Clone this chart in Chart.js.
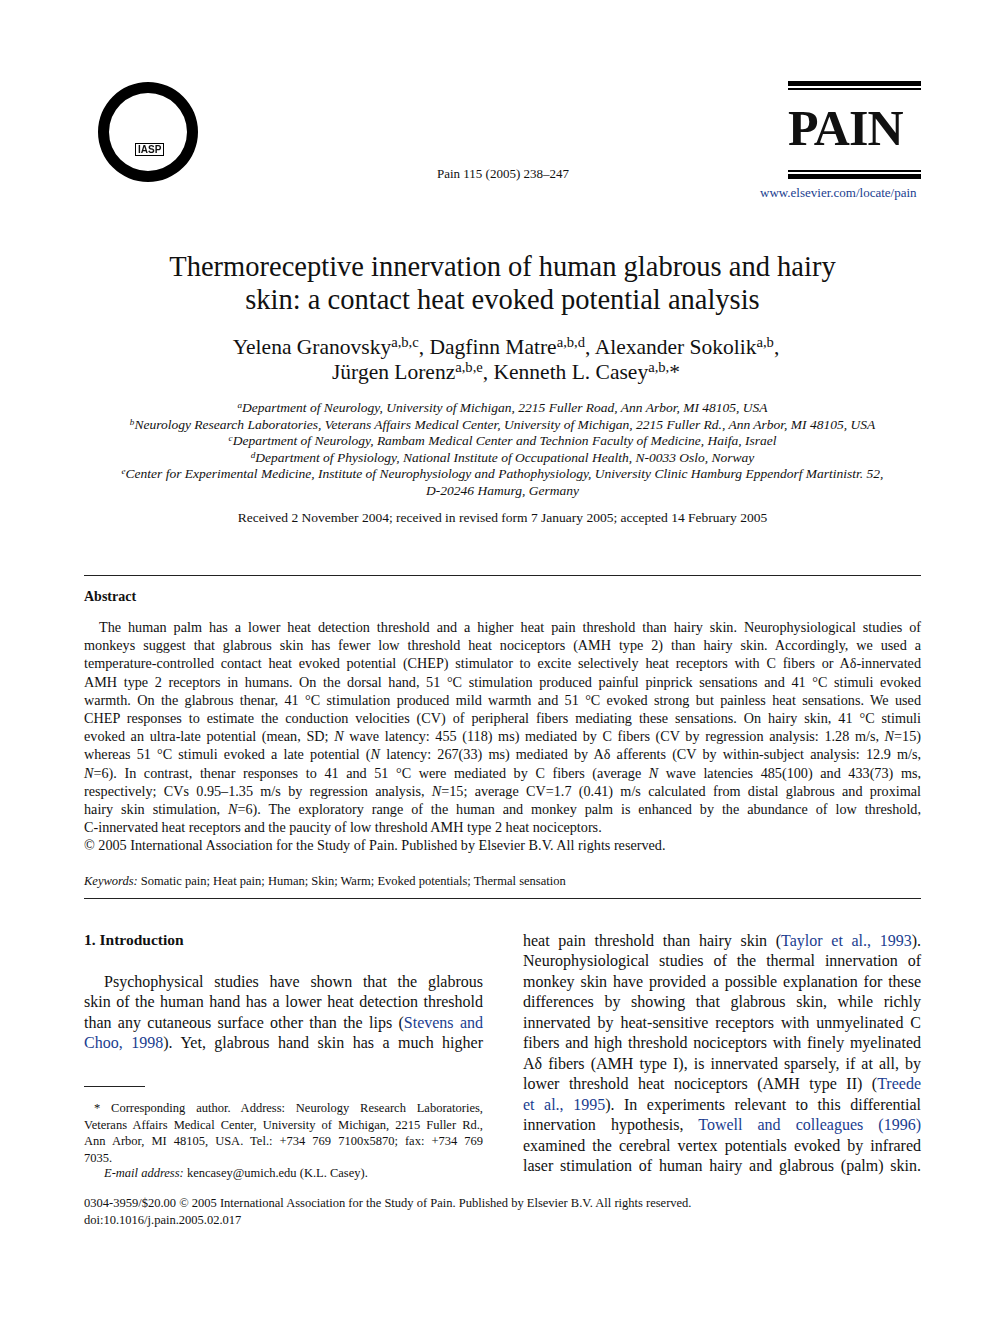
<!DOCTYPE html>
<html><head><meta charset="utf-8">
<script src="https://cdn.jsdelivr.net/npm/chart.js@4"></script>
<style>
body{margin:0;width:992px;height:1323px;background:#fff;position:relative;font-family:"Liberation Serif","Times New Roman",serif;color:#111;overflow:hidden}
.l{position:absolute;white-space:nowrap}
.j{text-align:justify;text-align-last:justify;white-space:normal}
.c{text-align:center}
sup{line-height:0;vertical-align:0.45em;font-size:0.68em}
a,.b{color:#1a3d8f;text-decoration:none}
.rule{position:absolute;height:1px;background:#222}
</style></head><body>
<div style="position:absolute;left:84px;top:82px;width:128px;height:100px"><canvas id="logo"></canvas></div>
<div class="l" style="left:135px;top:143px;font:bold 10px 'Liberation Sans';border:1px solid #000;padding:0 2px">IASP</div>
<div class="l c" style="left:400px;width:206px;top:166px;font-size:13px">Pain 115 (2005) 238–247</div>
<div class="rule" style="left:788px;width:133px;top:81px;height:5px;background:#000"></div>
<div class="rule" style="left:788px;width:133px;top:88px;height:2px;background:#000"></div>
<div class="l" style="left:788px;top:100px;font:bold 50px 'Liberation Serif';letter-spacing:-1px;line-height:56px">PAIN</div>
<div class="rule" style="left:788px;width:133px;top:170px;height:2px;background:#000"></div>
<div class="rule" style="left:788px;width:133px;top:174px;height:5px;background:#000"></div>
<div class="l" style="left:760px;top:185px;font-size:13px"><a>www.elsevier.com/locate/pain</a></div>

<div class="l c" style="left:0;width:1005px;top:250px;font-size:28.5px;line-height:33px">Thermoreceptive innervation of human glabrous and hairy<br>skin: a contact heat evoked potential analysis</div>
<div class="l c" style="left:0;width:1012px;top:335px;font-size:21.5px;line-height:25px">Yelena Granovsky<sup>a,b,c</sup>, Dagfinn Matre<sup>a,b,d</sup>, Alexander Sokolik<sup>a,b</sup>,<br>Jürgen Lorenz<sup>a,b,e</sup>, Kenneth L. Casey<sup>a,b,</sup>*</div>
<div class="l c" style="left:0;width:1005px;top:400px;font-size:13.5px;line-height:16.6px;font-style:italic"><sup>a</sup>Department of Neurology, University of Michigan, 2215 Fuller Road, Ann Arbor, MI 48105, USA<br><sup>b</sup>Neurology Research Laboratories, Veterans Affairs Medical Center, University of Michigan, 2215 Fuller Rd., Ann Arbor, MI 48105, USA<br><sup>c</sup>Department of Neurology, Rambam Medical Center and Technion Faculty of Medicine, Haifa, Israel<br><sup>d</sup>Department of Physiology, National Institute of Occupational Health, N-0033 Oslo, Norway<br><sup>e</sup>Center for Experimental Medicine, Institute of Neurophysiology and Pathophysiology, University Clinic Hamburg Eppendorf Martinistr. 52,<br>D-20246 Hamurg, Germany</div>
<div class="l c" style="left:0;width:1005px;top:510px;font-size:13.5px">Received 2 November 2004; received in revised form 7 January 2005; accepted 14 February 2005</div>
<div class="rule" style="left:84px;width:837px;top:575px"></div>
<div class="l" style="left:84px;top:589px;font-size:14px;font-weight:bold">Abstract</div>
<div id="abs"></div>
<div class="l" style="left:84px;top:874px;font-size:12.5px"><i>Keywords:</i> Somatic pain; Heat pain; Human; Skin; Warm; Evoked potentials; Thermal sensation</div>
<div class="rule" style="left:84px;width:837px;top:898px"></div>
<div class="l" style="left:84px;top:931px;font-size:15.5px;font-weight:bold">1. Introduction</div>
<div id="cols"></div>
<div class="rule" style="left:84px;width:61px;top:1086px"></div>
<div id="foot"></div>
<div class="l" style="left:84px;top:1195px;font-size:12.5px;line-height:17px">0304-3959/$20.00 © 2005 International Association for the Study of Pain. Published by Elsevier B.V. All rights reserved.<br>doi:10.1016/j.pain.2005.02.017</div>
<script>
const absLines=["The human palm has a lower heat detection threshold and a higher heat pain threshold than hairy skin. Neurophysiological studies of",
"monkeys suggest that glabrous skin has fewer low threshold heat nociceptors (AMH type 2) than hairy skin. Accordingly, we used a",
"temperature-controlled contact heat evoked potential (CHEP) stimulator to excite selectively heat receptors with C fibers or Aδ-innervated",
"AMH type 2 receptors in humans. On the dorsal hand, 51 °C stimulation produced painful pinprick sensations and 41 °C stimuli evoked",
"warmth. On the glabrous thenar, 41 °C stimulation produced mild warmth and 51 °C evoked strong but painless heat sensations. We used",
"CHEP responses to estimate the conduction velocities (CV) of peripheral fibers mediating these sensations. On hairy skin, 41 °C stimuli",
"evoked an ultra-late potential (mean, SD; <i>N</i> wave latency: 455 (118) ms) mediated by C fibers (CV by regression analysis: 1.28 m/s, <i>N</i>=15)",
"whereas 51 °C stimuli evoked a late potential (<i>N</i> latency: 267(33) ms) mediated by Aδ afferents (CV by within-subject analysis: 12.9 m/s,",
"<i>N</i>=6). In contrast, thenar responses to 41 and 51 °C were mediated by C fibers (average <i>N</i> wave latencies 485(100) and 433(73) ms,",
"respectively; CVs 0.95–1.35 m/s by regression analysis, <i>N</i>=15; average CV=1.7 (0.41) m/s calculated from distal glabrous and proximal",
"hairy skin stimulation, <i>N</i>=6). The exploratory range of the human and monkey palm is enhanced by the abundance of low threshold,",
"C-innervated heat receptors and the paucity of low threshold AMH type 2 heat nociceptors.",
"© 2005 International Association for the Study of Pain. Published by Elsevier B.V. All rights reserved."];
const leftLines=["Psychophysical studies have shown that the glabrous","skin of the human hand has a lower heat detection threshold","than any cutaneous surface other than the lips (<span class=b>Stevens and</span>","<span class=b>Choo, 1998</span>). Yet, glabrous hand skin has a much higher"];
const rightLines=["heat pain threshold than hairy skin (<span class=b>Taylor et al., 1993</span>).","Neurophysiological studies of the thermal innervation of","monkey skin have provided a possible explanation for these","differences by showing that glabrous skin, while richly","innervated by heat-sensitive receptors with unmyelinated C","fibers and high threshold nociceptors with finely myelinated","Aδ fibers (AMH type I), is innervated sparsely, if at all, by","lower threshold heat nociceptors (AMH type II) (<span class=b>Treede</span>","<span class=b>et al., 1995</span>). In experiments relevant to this differential","innervation hypothesis, <span class=b>Towell and colleagues (1996)</span>","examined the cerebral vertex potentials evoked by infrared","laser stimulation of human hairy and glabrous (palm) skin."];
const footLines=["* Corresponding author. Address: Neurology Research Laboratories,","Veterans Affairs Medical Center, University of Michigan, 2215 Fuller Rd.,","Ann Arbor, MI 48105, USA. Tel.: +734 769 7100x5870; fax: +734 769","7035."];
function put(host,lines,x0,w,y0,dy,fs,first,justLast){
  let h="";lines.forEach((t,i)=>{
    const x=i===0?x0+first:x0, ww=i===0?w-first:w;
    const j=(i<lines.length-1||justLast)?" j":"";
    h+=`<div class="l${j}" style="left:${x}px;width:${ww}px;top:${y0+i*dy}px;font-size:${fs}px;line-height:${fs+4}px">${t}</div>`;});
  document.getElementById(host).innerHTML+=h;}
put("abs",absLines.slice(0,12),84,837,618,18.2,14.2,15,false);
put("abs",[absLines[12]],84,837,618+12*18.2,18.2,14.2,0,false);
put("cols",leftLines,84,399,972,20.4,16,20,true);
put("cols",rightLines,523,398,931,20.45,16,0,true);
put("foot",footLines,84,399,1100,16.5,12.5,10,false);
document.getElementById("foot").innerHTML+='<div class="l" style="left:104px;top:1166px;font-size:12.5px"><i>E-mail address:</i> kencasey@umich.edu (K.L. Casey).</div>';
new Chart(document.getElementById("logo"),{type:"doughnut",data:{labels:["IASP"],datasets:[{data:[1],backgroundColor:["#000"],borderWidth:0}]},options:{responsive:true,maintainAspectRatio:false,animation:false,cutout:"78%",plugins:{legend:{display:false},tooltip:{enabled:false}}}});
</script>
</body></html>
